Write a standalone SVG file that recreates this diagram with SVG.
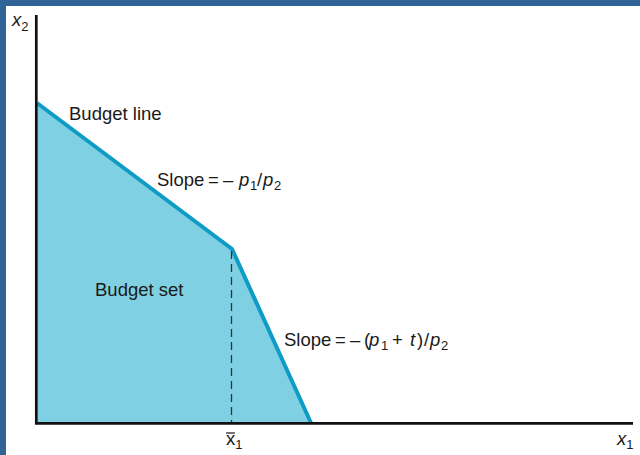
<svg xmlns="http://www.w3.org/2000/svg" width="640" height="455" viewBox="0 0 640 455">
<style>
text{font-family:"Liberation Sans",Arial,sans-serif;font-size:18.5px;fill:#1a1a1a}
.i{font-style:italic}
.n{font-style:normal}
.s{font-size:13px}
.ax{stroke:#111;stroke-width:2.7;fill:none}
</style>
<rect width="640" height="455" fill="#fff"/>
<rect x="0" y="0" width="640" height="6" fill="#306497"/>
<rect x="0" y="0" width="6" height="455" fill="#306497"/>
<g id="budget-set">
<polygon points="37,103 232,249 311,423 37,423" fill="#7fd0e2"/>
<text x="95" y="296">Budget set</text>
</g>
<g id="connectors">
<polyline points="37,103 232,249 311,423" fill="none" stroke="#0e9cc7" stroke-width="4" stroke-linejoin="miter"/>
<line x1="231.5" y1="251" x2="231.5" y2="422" stroke="#333" stroke-width="1.3" stroke-dasharray="8,5"/>
<polyline class="ax" points="36.3,15 36.3,423.3 633,423.3"/>
</g>
<g id="labels">
<text x="69" y="120">Budget line</text>
<text x="157" y="186">Slope<tspan x="208">=</tspan><tspan x="223">–</tspan><tspan class="i" x="239">p</tspan><tspan class="s" x="250" dy="4">1</tspan><tspan x="257" dy="-4">/</tspan><tspan class="i" x="263">p</tspan><tspan class="s" x="274" dy="4">2</tspan></text>
<text x="284" y="346">Slope<tspan x="335">=</tspan><tspan x="350">–</tspan><tspan x="364">(</tspan><tspan class="i" x="369">p</tspan><tspan class="s" x="381" dy="4">1</tspan><tspan x="392" dy="-4">+</tspan><tspan class="i" x="410">t</tspan><tspan x="417">)</tspan><tspan x="424">/</tspan><tspan class="i" x="430">p</tspan><tspan class="s" x="441" dy="4">2</tspan></text>
<text x="12" y="26" class="i">x<tspan class="s n" dy="5">2</tspan></text>
<text x="226" y="445">x<tspan class="s" dy="4">1</tspan></text>
<line x1="226" y1="433" x2="235" y2="433" stroke="#1a1a1a" stroke-width="1.2"/>
<text x="617" y="445" class="i">x<tspan class="s n" dy="4">1</tspan></text>
</g>
</svg>
